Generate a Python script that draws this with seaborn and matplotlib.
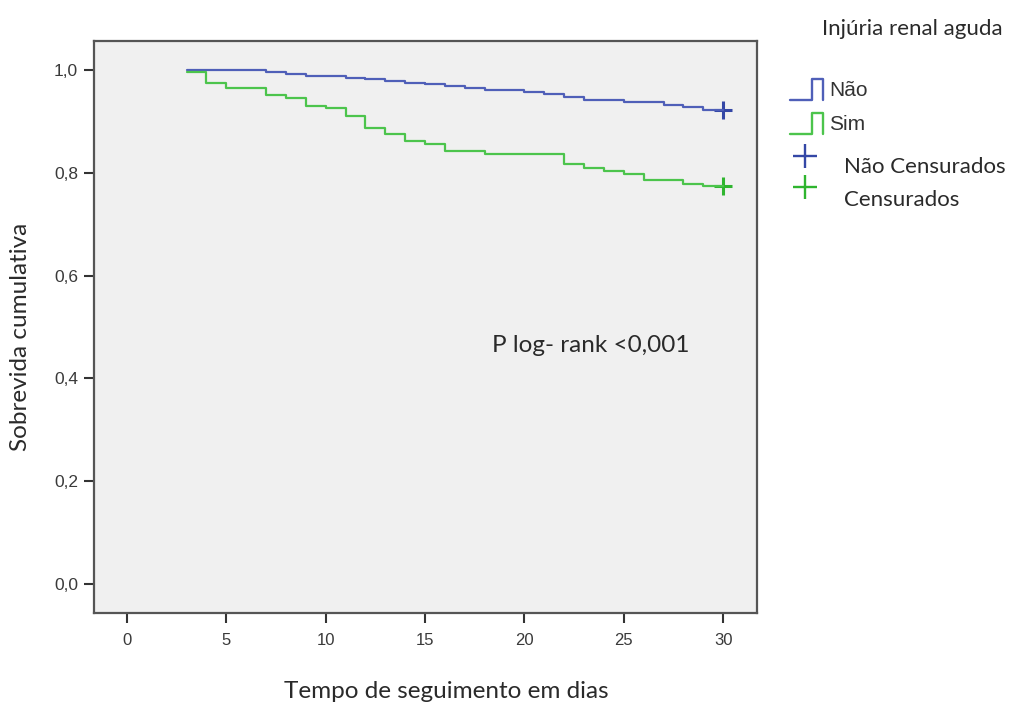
import matplotlib
matplotlib.use('Agg')
import matplotlib.pyplot as plt
import pandas as pd
import seaborn as sns
from matplotlib.lines import Line2D

# Kaplan-Meier estimates (step-post)
dias_nao = [3, 7, 8, 9, 11, 12, 13, 14, 15, 16, 17, 18, 20, 21, 22, 23, 25, 27, 28, 29, 30]
sobrev_nao = [1.0, 0.995, 0.991, 0.988, 0.985, 0.982, 0.978, 0.974, 0.972, 0.968, 0.965,
              0.961, 0.956, 0.953, 0.947, 0.942, 0.937, 0.931, 0.927, 0.921, 0.921]
dias_sim = [3, 4, 5, 7, 8, 9, 10, 11, 12, 13, 14, 15, 16, 18, 22, 23, 24, 25, 26, 28, 29, 30]
sobrev_sim = [0.996, 0.975, 0.964, 0.951, 0.946, 0.930, 0.925, 0.911, 0.887, 0.875, 0.862,
              0.856, 0.842, 0.837, 0.817, 0.810, 0.804, 0.797, 0.786, 0.778, 0.774, 0.774]

grupos = ['Não', 'Sim']
cores = {'Não': '#4f5fb8', 'Sim': '#4cc44c'}
cores_cens = {'Não': '#3447a6', 'Sim': '#2fb52f'}

xticks = [0, 5, 10, 15, 20, 25, 30]
yticks = [0.0, 0.2, 0.4, 0.6, 0.8, 1.0]
ytick_labels = ['0,0', '0,2', '0,4', '0,6', '0,8', '1,0']

km = pd.concat([
    pd.DataFrame({'dias': dias_nao, 'sobrevida': sobrev_nao, 'grupo': 'Não'}),
    pd.DataFrame({'dias': dias_sim, 'sobrevida': sobrev_sim, 'grupo': 'Sim'}),
])
censura = km.groupby('grupo').tail(1)

sns.set_theme(style='ticks', rc={'axes.facecolor': '#f0f0f0',
                                 'axes.edgecolor': '#555555',
                                 'axes.linewidth': 1.6,
                                 'xtick.color': '#333333',
                                 'ytick.color': '#333333'})
plt.rcParams['font.family'] = ['Liberation Sans', 'DejaVu Sans']
cal = ['Lato', 'DejaVu Sans']
txt_cor = '#2a2a2a'

fig = plt.figure(figsize=(10.14, 7.05), dpi=100)
ax = fig.add_axes([0.0927, 0.1305, 0.6538, 0.8113])

sns.lineplot(data=km, x='dias', y='sobrevida', hue='grupo', palette=cores,
             drawstyle='steps-post', linewidth=1.6, legend=False, ax=ax,
             estimator=None, sort=False)
for g in grupos:
    c = censura[censura['grupo'] == g]
    sns.scatterplot(x=c['dias'], y=c['sobrevida'], marker='+', s=170,
                    linewidth=2.2, color=cores_cens[g], legend=False, ax=ax)

ax.set_xlim(-1.66, 31.7)
ax.set_ylim(-0.056, 1.056)
ax.set_xticks(xticks)
ax.set_xticklabels([str(t) for t in xticks], fontsize=12, color='#3a3a3a')
ax.set_yticks(yticks)
ax.set_yticklabels(ytick_labels, fontsize=12.5, color='#3a3a3a')
ax.tick_params(axis='both', direction='out', length=7.5, width=1.5, pad=4)
ax.tick_params(axis='x', pad=7)
ax.grid(False)

ax.set_xlabel('Tempo de seguimento em dias', family=cal, fontsize=17.5,
              color=txt_cor)
ax.xaxis.set_label_coords(0.532, -0.119)
ax.set_ylabel('Sobrevida cumulativa', family=cal, fontsize=17.5,
              color=txt_cor)
ax.yaxis.set_label_coords(-0.095, 0.483)

ax.text(18.37, 0.465, 'P log- rank <0,001', family=cal, fontsize=17.5,
        color=txt_cor, ha='left', va='center')

# legend drawn to the right of the axes
W, H = 1014.0, 705.0
def fx(px):
    return px / W
def fy(py):
    return 1 - py / H

fig.text(fx(912), fy(29), 'Injúria renal aguda', family=cal, fontsize=16,
         color=txt_cor, ha='center', va='center')
for g, ylo, yhi, ytxt in [('Não', 100, 79, 91), ('Sim', 134, 113, 124)]:
    fig.add_artist(Line2D([fx(790), fx(812), fx(812), fx(823), fx(823)],
                          [fy(ylo), fy(ylo), fy(yhi), fy(yhi), fy(ylo)],
                          color=cores[g], linewidth=1.7))
    fig.text(fx(829), fy(ytxt), g, fontsize=15, color='#333333',
             ha='left', va='center')
for g, ymark, txt, ytxt in [('Não', 156, 'Não Censurados', 167),
                            ('Sim', 187, 'Censurados', 200)]:
    fig.add_artist(Line2D([fx(805)], [fy(ymark)], marker='+', markersize=17,
                          markeredgewidth=1.7, color=cores_cens[g]))
    fig.text(fx(844), fy(ytxt), txt, family=cal, fontsize=16, color=txt_cor,
             ha='left', va='center')

fig.savefig('out.png', dpi=100, facecolor='white')
